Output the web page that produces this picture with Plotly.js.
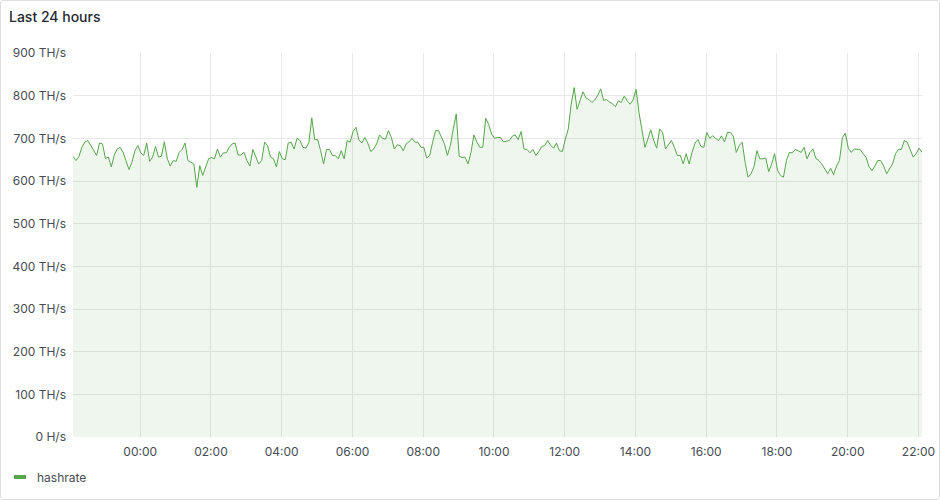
<!DOCTYPE html>
<html>
<head>
<meta charset="utf-8">
<script src="https://cdn.plot.ly/plotly-3.0.1.min.js"></script>
<style>
  html, body { margin: 0; padding: 0; background: #ffffff; }
  #wrap { position: relative; width: 940px; height: 500px; }
  #chart { position: absolute; left: 0; top: 0; width: 940px; height: 500px; }
  #frame { position: absolute; left: 0; top: 0; width: 940px; height: 500px; box-sizing: border-box;
           border: 1px solid #dcdee1; border-radius: 3px; pointer-events: none; }
</style>
</head>
<body>
<div id="wrap"><div id="chart"></div><div id="frame"></div></div>
<script>
// ---- data (5-minute samples, TH/s) ----
const startTime = '2024-01-01T22:06:00';
const stepMinutes = 5;
const hashrate = [
  658,648,657,679,691,695,684,671,660,689,687,653,656,633,661,675,679,667,644,627,
  644,671,683,666,660,689,646,656,681,656,658,692,652,635,648,646,667,
  674,689,648,644,640,585,636,613,635,652,655,652,675,656,666,666,679,687,689,661,
  661,667,648,635,674,656,640,648,691,683,656,652,633,669,652,
  650,689,691,675,700,695,679,677,690,748,697,697,671,640,674,674,660,660,652,671,
  652,695,691,716,726,696,689,702,689,669,675,687,708,700,698,718,
  702,675,685,683,671,687,692,700,691,691,679,679,654,660,691,718,718,704,687,660,
  683,722,757,658,655,656,640,667,708,691,679,679,747,733,710,
  700,702,702,692,693,695,705,708,697,716,675,674,666,674,660,669,681,683,695,684,
  677,689,671,669,698,722,780,819,768,788,809,795,791,784,790,801,
  816,789,791,785,781,774,788,784,799,788,780,790,815,760,716,679,698,720,695,677,
  722,714,675,684,695,679,660,660,640,664,640,667,689,697,681,
  679,714,700,706,700,695,706,692,714,714,705,667,683,691,644,609,617,633,671,652,
  652,654,622,640,664,625,613,609,648,667,666,674,671,667,679,652,
  667,675,653,648,640,630,617,630,615,635,648,702,712,677,667,675,675,674,664,656,
  634,624,635,648,648,635,617,627,640,664,674,674,695,691,675,656,664,677,667
];
const seriesName = 'hashrate';
const titleText = 'Last 24 hours';
const yTickVals = [0,100,200,300,400,500,600,700,800,900];
const yTickText = ['0 H/s','100 TH/s','200 TH/s','300 TH/s','400 TH/s','500 TH/s','600 TH/s','700 TH/s','800 TH/s','900 TH/s'];
const xTickVals = ['2024-01-02 00:00','2024-01-02 02:00','2024-01-02 04:00','2024-01-02 06:00','2024-01-02 08:00',
  '2024-01-02 10:00','2024-01-02 12:00','2024-01-02 14:00','2024-01-02 16:00','2024-01-02 18:00',
  '2024-01-02 20:00','2024-01-02 22:00'];
const xTickText = ['00:00','02:00','04:00','06:00','08:00','10:00','12:00','14:00','16:00','18:00','20:00','22:00'];

function fmt(d) {
  const p = n => String(n).padStart(2, '0');
  return d.getFullYear() + '-' + p(d.getMonth() + 1) + '-' + p(d.getDate()) + ' ' + p(d.getHours()) + ':' + p(d.getMinutes());
}
const t0 = new Date(startTime);
const times = hashrate.map((_, i) => fmt(new Date(t0.getTime() + i * stepMinutes * 60000)));

const green = '#56a64b';
const textCol = '#464c54';
const gridCol = '#e8e8e9';

const trace = {
  x: times, y: hashrate, type: 'scatter', mode: 'lines', name: seriesName,
  line: { color: green, width: 1 },
  fill: 'tozeroy', fillcolor: 'rgba(86,166,75,0.10)',
  showlegend: false, hoverinfo: 'skip'
};

const plotL = 73, plotR = 922, plotT = 53, plotB = 437;
const pw = plotR - plotL, ph = plotB - plotT;
const px = v => (v - plotL) / pw;
const py = v => (plotB - v) / ph;

const layout = {
  width: 940, height: 500,
  paper_bgcolor: 'rgba(0,0,0,0)', plot_bgcolor: 'rgba(0,0,0,0)',
  margin: { l: plotL, r: 940 - plotR, t: plotT, b: 500 - plotB, pad: 0 },
  font: { family: 'Inter, "Noto Sans", sans-serif', size: 12, color: textCol },
  title: { text: titleText, x: 9 / 940, xref: 'container', xanchor: 'left',
           y: 1 - 17 / 500, yref: 'container', yanchor: 'middle',
           font: { family: 'Inter, sans-serif', size: 14, color: '#24292e', weight: 500 } },
  xaxis: {
    type: 'date', range: [times[0], times[times.length - 1]],
    tickvals: xTickVals, ticktext: xTickText,
    showgrid: true, gridcolor: gridCol, gridwidth: 1,
    zeroline: false, showline: false, ticks: '', ticklabelstandoff: 6,
    tickfont: { size: 12, color: textCol }, fixedrange: true
  },
  yaxis: {
    range: [0, 900], tickvals: yTickVals, ticktext: yTickText,
    showgrid: true, gridcolor: gridCol, gridwidth: 1,
    zeroline: false, showline: false, ticks: '', ticklabelstandoff: 6,
    tickfont: { size: 12, color: textCol }, fixedrange: true
  },
  shapes: [
    { type: 'line', xref: 'paper', yref: 'paper', x0: px(14), x1: px(26), y0: py(477), y1: py(477),
      line: { color: green, width: 4 }, layer: 'above' }
  ],
  annotations: [
    { text: seriesName, xref: 'paper', yref: 'paper', x: px(35), y: py(477),
      xanchor: 'left', yanchor: 'middle', showarrow: false,
      font: { size: 12, color: textCol } }
  ]
};

Plotly.newPlot('chart', [trace], layout, { displayModeBar: false, staticPlot: true });
</script>
</body>
</html>
